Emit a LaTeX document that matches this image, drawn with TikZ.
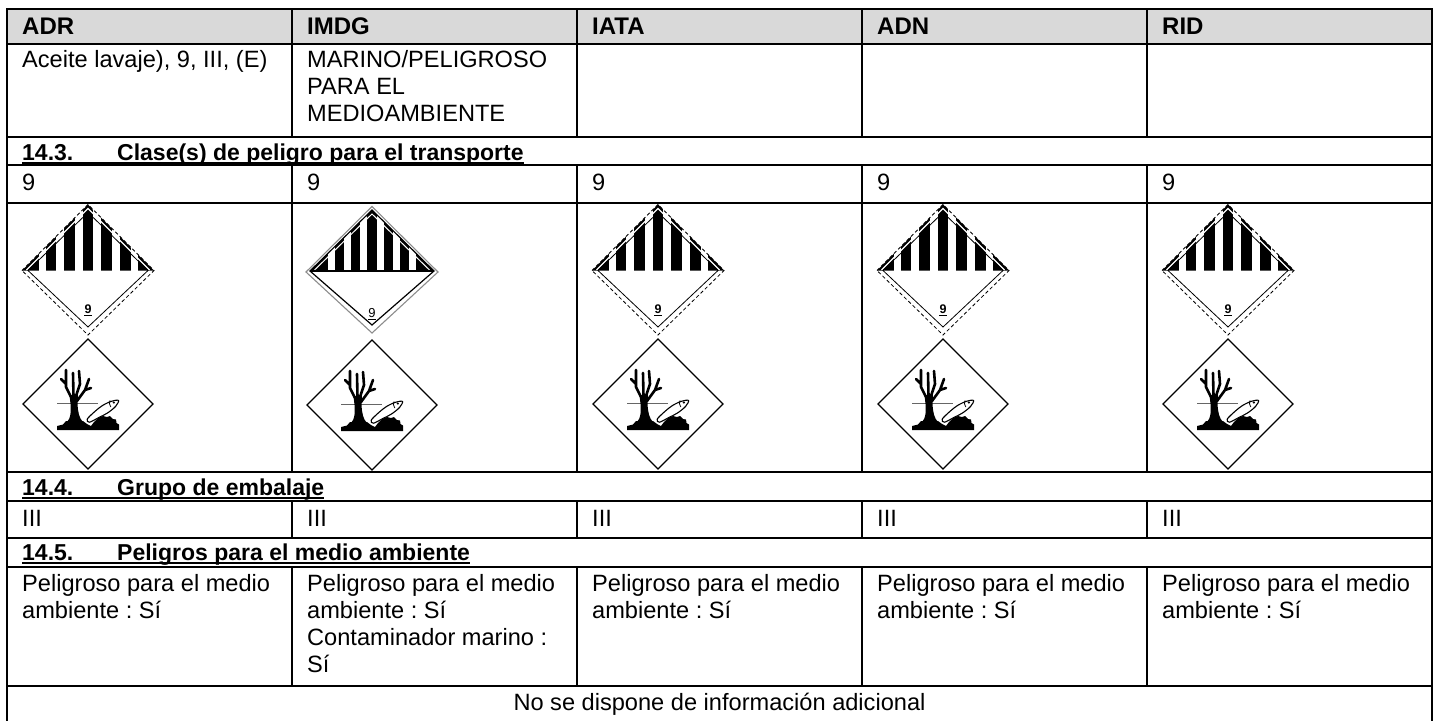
\documentclass[tikz,border=0pt]{standalone}
\usepackage{fontspec}
\setmainfont{Liberation Sans}
\frenchspacing
\definecolor{hdrgray}{HTML}{D9D9D9}
\tikzset{
  lblADR/.pic={
    \begin{scope}
      \clip (-66,0) -- (0,-66) -- (66,0) -- cycle;
      \foreach \k in {-2,...,2} {\fill ({\k*18.6-5.3},0.8) rectangle ({\k*18.6+5.3},-70);}
      \fill (49.5,0.8) rectangle (70,-70);
      \fill (-49.5,0.8) rectangle (-70,-70);
    \end{scope}
    \draw[white,line width=1.1pt] (-61.5,-0.5) -- (0,-62) -- (61.5,-0.5);
    \draw[line width=0.8pt] (-60,0) -- (0,-58) -- (60,0) -- (0,56.5) -- cycle;
    \draw[line width=0.8pt,dash pattern=on 3.5pt off 2.5pt] (-66,0) -- (0,-66) -- (66,0) -- (0,64.5) -- cycle;
    \node[font=\bfseries\fontsize{12.5}{12.5}\selectfont,inner sep=0pt,anchor=base] (-n) at (0,42.5) {9};
    \draw[line width=1.3pt] (-4,45) -- (4,45);
  },
  lblIMDG/.pic={
    \begin{scope}
      \clip (-62,0) -- (0,-61) -- (62,0) -- cycle;
      \fill (-63,0.8) rectangle (63,-63);
      \foreach \g in {8.5,24.5,40.5} {
        \fill[white] ({\g-3.2},-0.8) rectangle ({\g+3.2},-63);
        \fill[white] ({-\g-3.2},-0.8) rectangle ({-\g+3.2},-63);
      }
    \end{scope}
    \draw[white,line width=1pt] (-57.5,-1) -- (0,-57) -- (57.5,-1);
    \draw[black!45,line width=1.1pt] (-66,1) -- (0,-64.5) -- (66,1) -- (0,62) -- cycle;
    \draw[line width=1.2pt] (-62,0) -- (0,-61) -- (62,0) -- (0,54) -- cycle;
    \draw[line width=1.6pt] (-62,0) -- (62,0);
    \node[font=\fontsize{13}{13}\selectfont,inner sep=0pt,anchor=base] (-n) at (0,46) {9};
    \draw[line width=1pt] (-3.8,48.5) -- (3.8,48.5);
  },
  envpic/.pic={
    \draw[line width=1.3pt,line join=miter] (-65,0) -- (0,-65) -- (65,0) -- (0,65) -- cycle;
    \draw[black!60,line width=0.8pt] (-31,-1) -- (10,-1);
    % trunk
    \fill (-21,18) .. controls (-17,14) and (-17,8) .. (-17.5,0) -- (-18.5,-9) -- (-10,-9) -- (-10.5,0) .. controls (-10,8) and (-9,14) .. (-5,18) -- cycle;
    % branches
    \draw[line width=2.6pt,line cap=round,line join=round]
      (-17,-7) -- (-22,-17) -- (-22,-34)
      (-22,-20) -- (-27,-25)
      (-14.5,-8) -- (-15,-31)
      (-12,-8) -- (-8,-20) -- (-9,-33)
      (-11,-3) -- (-3,-14) -- (1,-25)
      (-3,-14) -- (3,-16);
    % ground
    \fill (-31,26) -- (-31,22) -- (-25,20.5) -- (-22,17) -- (-5,17) -- (-1,20) -- (3,22) -- (6,18) -- (10,14) -- (15,12) -- (19,13) -- (22,12) -- (25,15) -- (28,15.5) -- (28.5,19) -- (31,20.5) -- (31,26) -- cycle;
    % fish
    \filldraw[fill=white,line width=1.1pt] plot[smooth cycle,tension=0.55] coordinates {(-0.8,15.2) (6.6,7.7) (14.5,1.5) (23.7,-2.8) (30.5,-3.5) (27.5,2.5) (19.3,9.1) (10.3,13.8) (1.5,18.2)};
    \fill (25.8,-1.5) circle (1.2);
    \draw[line width=0.8pt] (22,-3.6) .. controls (21.2,-0.6) .. (22.8,3);
  }
}
\begin{document}
\begin{tikzpicture}[x=1pt,y=-1pt,
  body/.style={anchor=base west,inner sep=0pt,font=\fontsize{23.6}{27}\selectfont},
  hdr/.style={anchor=base west,inner sep=0pt,font=\bfseries\fontsize{24}{27}\selectfont},
  sect/.style={anchor=base west,inner sep=0pt,font=\bfseries\fontsize{23}{27}\selectfont},
  grid/.style={line width=2pt},
  uline/.style={line width=2pt}]
\useasboundingbox (0,0) rectangle (1437,720);
\fill[hdrgray] (7,9) rectangle (1432,44);
\foreach \y in {9,44,137,165,203,472,501,538,567,686} {\draw[grid] (6,\y) -- (1433,\y);}
\draw[grid] (7,8) -- (7,721);
\draw[grid] (1432,8) -- (1432,721);
\foreach \x in {292,577,862,1147} {
  \draw[grid] (\x,9) -- (\x,137);
  \draw[grid] (\x,165) -- (\x,472);
  \draw[grid] (\x,501) -- (\x,538);
  \draw[grid] (\x,567) -- (\x,686);
}
% header
\node[hdr] (hadr) at (22,34) {ADR};
\node[hdr] (himdg) at (307,34) {IMDG};
\node[hdr] (hiata) at (592,34) {IATA};
\node[hdr] (hadn) at (877,34) {ADN};
\node[hdr] (hrid) at (1162,34) {RID};
% row 1
\node[body] (r1a) at (22,67) {Aceite lavaje), 9, III, (E)};
\node[body] (r1b1) at (307,67) {MARINO/PELIGROSO};
\node[body] (r1b2) at (307,94) {PARA EL};
\node[body] (r1b3) at (307,121) {MEDIOAMBIENTE};
% 14.3
\node[sect] (s3n) at (22,160) {14.3.};
\node[sect] (s3t) at (117,160) {Clase(s) de peligro para el transporte};
\draw[uline] ([yshift=-3pt]s3n.base west) -- ([yshift=-3pt]s3t.base east);
% class row
\node[body] (c9a) at (22,190) {9};
\node[body] (c9b) at (307,190) {9};
\node[body] (c9c) at (592,190) {9};
\node[body] (c9d) at (877,190) {9};
\node[body] (c9e) at (1162,190) {9};
% pictograms
\pic (la) at (88,270.5) {lblADR};
\pic (lb) at (372,271) {lblIMDG};
\pic (lc) at (658,270.5) {lblADR};
\pic (ld) at (943,270.5) {lblADR};
\pic (le) at (1228,270.5) {lblADR};
\pic (ea) at (88,404) {envpic};
\pic (eb) at (372,405) {envpic};
\pic (ec) at (658,404) {envpic};
\pic (ed) at (943,404) {envpic};
\pic (ee) at (1228,404) {envpic};
% 14.4
\node[sect] (s4n) at (22,495) {14.4.};
\node[sect] (s4t) at (117,495) {Grupo de embalaje};
\draw[uline] ([yshift=-3pt]s4n.base west) -- ([yshift=-3pt]s4t.base east);
% III row
\node[body] (g3a) at (22,526) {III};
\node[body] (g3b) at (307,526) {III};
\node[body] (g3c) at (592,526) {III};
\node[body] (g3d) at (877,526) {III};
\node[body] (g3e) at (1162,526) {III};
% 14.5
\node[sect] (s5n) at (22,560) {14.5.};
\node[sect] (s5t) at (117,560) {Peligros para el medio ambiente};
\draw[uline] ([yshift=-3pt]s5n.base west) -- ([yshift=-3pt]s5t.base east);
% env rows
\node[body] (pa1) at (22,591) {Peligroso para el medio};
\node[body] (pa2) at (22,618) {ambiente : Sí};
\node[body] (pb1) at (307,591) {Peligroso para el medio};
\node[body] (pb2) at (307,618) {ambiente : Sí};
\node[body] (pb3) at (307,645) {Contaminador marino :};
\node[body] (pb4) at (307,672) {Sí};
\node[body] (pc1) at (592,591) {Peligroso para el medio};
\node[body] (pc2) at (592,618) {ambiente : Sí};
\node[body] (pd1) at (877,591) {Peligroso para el medio};
\node[body] (pd2) at (877,618) {ambiente : Sí};
\node[body] (pe1) at (1162,591) {Peligroso para el medio};
\node[body] (pe2) at (1162,618) {ambiente : Sí};
% final
\node[body,anchor=base] (fin) at (719.5,710) {No se dispone de información adicional};
\end{tikzpicture}
\end{document}
